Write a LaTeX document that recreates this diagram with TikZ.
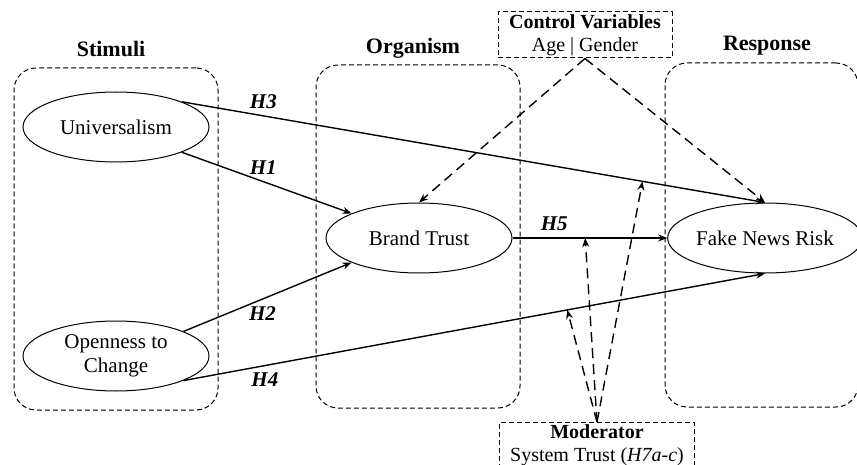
\documentclass[tikz,border=0pt]{standalone}
\usepackage{fontspec}
\setmainfont{Liberation Serif}
\usetikzlibrary{arrows.meta,shapes.geometric}

\tikzset{
  stage/.style={draw,dash pattern=on 2.5pt off 1.5pt,rounded corners=11pt,line width=0.5pt,inner sep=0pt},
  construct/.style={draw,ellipse,line width=0.5pt,minimum width=93pt,minimum height=35pt,inner sep=0pt,align=center,font=\fontsize{10.5}{12}\selectfont},
  head/.style={font=\fontsize{11}{13}\selectfont\bfseries},
  link/.style={line width=0.7pt,-{Stealth[length=4.5pt,width=3.5pt]}},
  hyp/.style={font=\fontsize{10.5}{12}\selectfont\bfseries\itshape},
  infobox/.style={draw,dash pattern=on 2.5pt off 1.5pt,line width=0.5pt,align=center,inner sep=1pt,font=\fontsize{10}{11.5}\selectfont},
  effect/.style={line width=0.7pt,dash pattern=on 5pt off 3pt,-{Stealth[length=4.5pt,width=3.5pt]}}
}

\begin{document}
\begin{tikzpicture}[x=0.5pt,y=-0.5pt]
        \useasboundingbox (0,0) rectangle (857,465);
        \clip (0,0) rectangle (857,465);

        % stages
        \node[stage,minimum width=102pt,minimum height=171pt] (stim) at (116,239) {};
        \node[stage,minimum width=102pt,minimum height=171.5pt] (org) at (418,236.5) {};
        \node[stage,minimum width=96.5pt,minimum height=172pt] (resp) at (761.5,235) {};

        \node[head] (stimhd) at (111,49) {Stimuli};
        \node[head] (orghd) at (413,48) {Organism};
        \node[head] (resphd) at (767,46) {Response};

        % constructs
        \node[construct] (univ) at (116,127) {Universalism};
        \node[construct] (open) at (116,356) {Openness to\\Change};
        \node[construct] (brand) at (419,238) {Brand Trust};
        \node[construct] (fake) at (765,238) {Fake News Risk};

        \node[infobox,minimum width=87pt,minimum height=23pt] (ctrl) at (585,35)
        {\textbf{Control Variables}\\Age | Gender};
        \node[infobox,minimum width=97.5pt,anchor=north,text depth=12pt] (mod) at (597,422)
        {\textbf{Moderator}\\System Trust (\textit{H7a-c})};

        % hypotheses
        \draw[link] (univ.21) -- node[hyp,pos=0.14,above] {H3} coordinate[pos=0.79] (m3) (fake.north);
        \draw[link] (univ.-21) -- node[hyp,pos=0.48,above] {H1} (brand.160);
        \draw[link] (open.20) -- node[hyp,pos=0.47,below] {H2} (brand.200);
        \draw[link] (open.-20) -- node[hyp,pos=0.14,below] {H4} coordinate[pos=0.66] (m4) (fake.south);
        \draw[link] (brand.east) -- node[hyp,pos=0.27,above] {H5} coordinate[pos=0.47] (m5) (fake.west);

        % controls and moderation
        \draw[effect] (ctrl.south) -- (brand.north);
        \draw[effect] (ctrl.south) -- (fake.north);
        \foreach \t in {m3,m4,m5}
        \draw[effect] (mod.north) -- (\t);
    \end{tikzpicture}
\end{document}
